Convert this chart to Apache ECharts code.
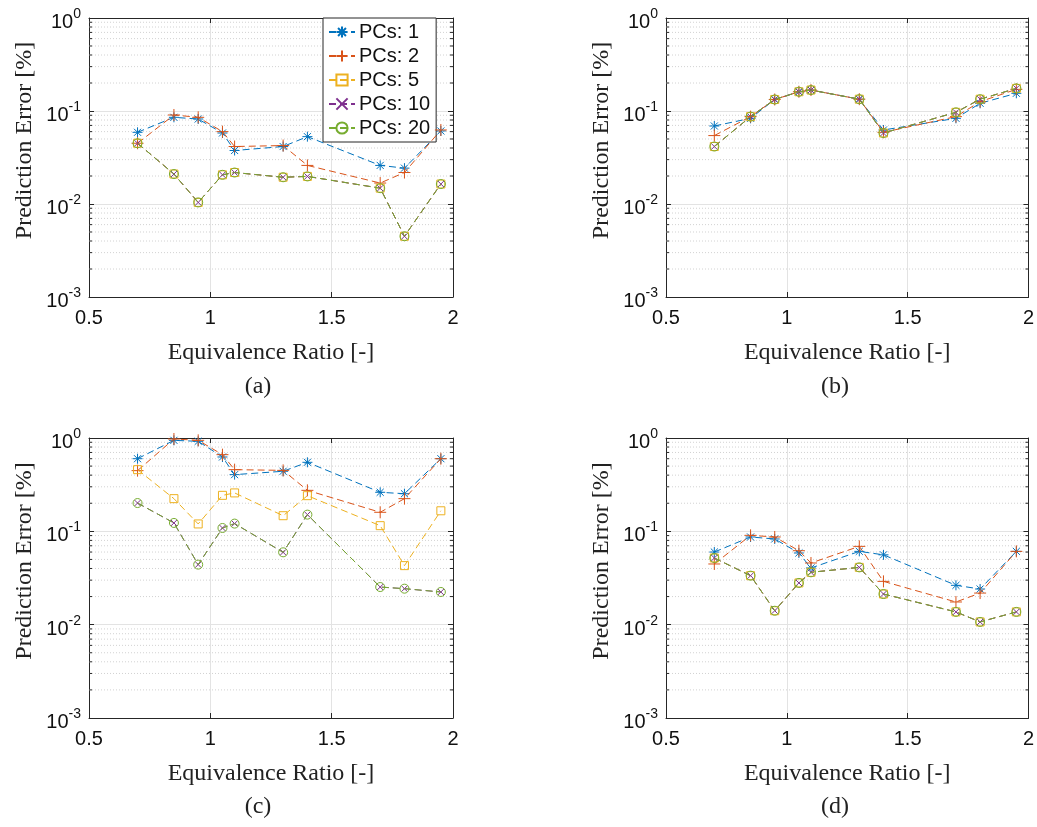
<!DOCTYPE html>
<html>
<head>
<meta charset="utf-8">
<script src="https://cdn.jsdelivr.net/npm/echarts@6/dist/echarts.min.js"></script>
<style>
html,body{margin:0;padding:0;background:#fff;}
#chart{width:1037px;height:827px;}
</style>
</head>
<body>
<div id="chart"></div>
<script>
// ---- data ----
const xVals = [0.7, 0.85, 0.95, 1.05, 1.1, 1.3, 1.4, 1.7, 1.8, 1.95];
const seriesNames = ['PCs: 1', 'PCs: 2', 'PCs: 5', 'PCs: 10', 'PCs: 20'];
const xTicks = [0.5, 1, 1.5, 2];
const panelLabels = ['(a)', '(b)', '(c)', '(d)'];

// (a)
const a_pc1  = [0.059, 0.0855, 0.082, 0.058, 0.0376, 0.0415, 0.053, 0.026, 0.0243, 0.061];
const a_pc2  = [0.045, 0.0906, 0.0855, 0.060, 0.0415, 0.0425, 0.026, 0.0168, 0.0218, 0.0625];
const a_pc5  = [0.045, 0.0210, 0.0104, 0.0206, 0.0218, 0.0194, 0.0198, 0.0148, 0.0045, 0.0164];
const a_pc10 = [0.045, 0.0210, 0.0104, 0.0206, 0.0218, 0.0194, 0.0198, 0.0148, 0.0045, 0.0164];
const a_pc20 = [0.045, 0.0210, 0.0104, 0.0206, 0.0218, 0.0194, 0.0198, 0.0148, 0.0045, 0.0164];
// (b)
const b_pc1  = [0.069, 0.0834, 0.133, 0.161, 0.168, 0.134, 0.0625, 0.0834, 0.121, 0.155];
const b_pc2  = [0.0544, 0.087, 0.133, 0.161, 0.168, 0.134, 0.059, 0.087, 0.126, 0.171];
const b_pc5  = [0.0415, 0.087, 0.133, 0.161, 0.168, 0.134, 0.058, 0.0968, 0.134, 0.175];
const b_pc10 = [0.0415, 0.087, 0.133, 0.161, 0.168, 0.134, 0.058, 0.0968, 0.134, 0.175];
const b_pc20 = [0.0415, 0.087, 0.133, 0.161, 0.168, 0.134, 0.058, 0.0968, 0.134, 0.175];
// (c)
const c_pc1  = [0.60, 0.944, 0.921, 0.626, 0.405, 0.44, 0.549, 0.262, 0.253, 0.60];
const c_pc2  = [0.447, 0.976, 0.944, 0.663, 0.458, 0.45, 0.275, 0.16, 0.224, 0.60];
const c_pc5  = [0.458, 0.224, 0.12, 0.243, 0.258, 0.147, 0.241, 0.115, 0.0429, 0.166];
const c_pc10 = [0.201, 0.123, 0.044, 0.1086, 0.121, 0.0596, 0.151, 0.0253, 0.0243, 0.0224];
const c_pc20 = [0.201, 0.123, 0.044, 0.1086, 0.121, 0.0596, 0.151, 0.0253, 0.0243, 0.0224];
// (d)
const d_pc1  = [0.060, 0.087, 0.0828, 0.0586, 0.0405, 0.061, 0.056, 0.0264, 0.0241, 0.061];
const d_pc2  = [0.0447, 0.0906, 0.087, 0.062, 0.0458, 0.069, 0.0291, 0.0175, 0.0218, 0.061];
const d_pc5  = [0.0518, 0.0335, 0.0141, 0.028, 0.0364, 0.0411, 0.0213, 0.0137, 0.0107, 0.0137];
const d_pc10 = [0.0518, 0.0335, 0.0141, 0.028, 0.0364, 0.0411, 0.0213, 0.0137, 0.0107, 0.0137];
const d_pc20 = [0.0518, 0.0335, 0.0141, 0.028, 0.0364, 0.0411, 0.0213, 0.0137, 0.0107, 0.0137];

const panels = [
  [a_pc1, a_pc2, a_pc5, a_pc10, a_pc20],
  [b_pc1, b_pc2, b_pc5, b_pc10, b_pc20],
  [c_pc1, c_pc2, c_pc5, c_pc10, c_pc20],
  [d_pc1, d_pc2, d_pc5, d_pc10, d_pc20]
];

// ---- styling ----
const colors = ['#0072BD', '#D95319', '#EDB120', '#7E2F8E', '#77AC30'];
const symbols = [
  'path://M0,-10L0,10M-10,0L10,0M-7.07,-7.07L7.07,7.07M-7.07,7.07L7.07,-7.07',
  'path://M0,-10L0,10M-10,0L10,0',
  'rect',
  'path://M-10,-10L10,10M-10,10L10,-10',
  'circle'
];
const symSizes = [10, 12, 8, 6, 9];
const grids = [
  {left: 89, top: 18, width: 364, height: 279},
  {left: 666, top: 18, width: 366, height: 279},
  {left: 89, top: 438, width: 364, height: 280},
  {left: 666, top: 438, width: 366, height: 280}
];
const labelPos = [[258, 387], [835, 387], [258, 807], [835, 807]];
const axisColor = '#262626';
const sansFont = 'Liberation Sans';
const serifFont = 'Liberation Serif';

// minor grid values (log decades)
const minorVals = [];
for (let e = -3; e < 0; e++) {
  for (let m = 2; m <= 9; m++) minorVals.push(m * Math.pow(10, e));
}

const xAxes = [], yAxes = [], series = [];
grids.forEach((g, gi) => {
  xAxes.push({
    type: 'value', gridIndex: gi, min: 0.5, max: 2, interval: 0.5, position: 'bottom',
    name: 'Equivalence Ratio [-]', nameLocation: 'middle', nameGap: 44,
    nameTextStyle: {fontFamily: serifFont, fontSize: 24, color: '#222'},
    axisLine: {show: true, onZero: false, lineStyle: {color: axisColor, width: 1}},
    axisTick: {show: true, inside: true, length: 5, lineStyle: {color: axisColor}},
    axisLabel: {fontFamily: sansFont, fontSize: 20, color: '#111', margin: 11,
      formatter: v => String(v)},
    splitLine: {show: true, lineStyle: {color: '#e3e3e3', width: 1}}
  });
  xAxes.push({
    type: 'value', gridIndex: gi, min: 0.5, max: 2, interval: 0.5, position: 'top',
    axisLine: {show: true, onZero: false, lineStyle: {color: axisColor, width: 1}},
    axisTick: {show: true, inside: true, length: 5, lineStyle: {color: axisColor}},
    axisLabel: {show: false}, splitLine: {show: false}
  });
  yAxes.push({
    type: 'log', gridIndex: gi, min: 0.001, max: 1, logBase: 10, position: 'left',
    name: 'Prediction Error [%]', nameLocation: 'middle', nameGap: 52,
    nameTextStyle: {fontFamily: serifFont, fontSize: 24, color: '#222', padding: [0, 0, 0, 34]},
    axisLine: {show: true, onZero: false, lineStyle: {color: axisColor, width: 1}},
    axisTick: {show: true, inside: true, length: 5, lineStyle: {color: axisColor}},
    axisLabel: {
      margin: 8,
      formatter: v => '{b|10}{s|' + Math.round(Math.log10(v)) + '}',
      rich: {
        b: {fontFamily: sansFont, fontSize: 20, color: '#111', padding: [9, 0, 0, 0]},
        s: {fontFamily: sansFont, fontSize: 14, color: '#111', padding: [0, 0, 8, 0]}
      }
    },
    splitLine: {show: true, lineStyle: {color: '#e3e3e3', width: 1}}
  });
  yAxes.push({
    type: 'log', gridIndex: gi, min: 0.001, max: 1, logBase: 10, position: 'right',
    axisLine: {show: true, onZero: false, lineStyle: {color: axisColor, width: 1}},
    axisTick: {show: true, inside: true, length: 5, lineStyle: {color: axisColor}},
    axisLabel: {show: false}, splitLine: {show: false}
  });

  // minor grid lines + minor ticks
  series.push({
    type: 'custom', name: 'minor', xAxisIndex: gi * 2, yAxisIndex: gi * 2, z: 1,
    silent: true, clip: false,
    data: minorVals.map(v => [0.5, v]),
    renderItem: (params, api) => {
      const v = api.value(1);
      const l = api.coord([0.5, v]);
      const r = api.coord([2, v]);
      const children = [
        {type: 'line', shape: {x1: l[0], y1: l[1], x2: r[0], y2: r[1]},
         style: {stroke: '#d2d2d2', lineWidth: 1, lineDash: [1, 2]}},
        {type: 'line', shape: {x1: l[0], y1: l[1], x2: l[0] + 3, y2: l[1]},
         style: {stroke: axisColor, lineWidth: 1}},
        {type: 'line', shape: {x1: r[0] - 3, y1: r[1], x2: r[0], y2: r[1]},
         style: {stroke: axisColor, lineWidth: 1}}
      ];
      return {type: 'group', children: children};
    }
  });

  panels[gi].forEach((vals, si) => {
    series.push({
      type: 'line', name: seriesNames[si],
      xAxisIndex: gi * 2, yAxisIndex: gi * 2, z: 3 + si,
      data: xVals.map((x, k) => [x, vals[k]]),
      symbol: symbols[si], symbolSize: symSizes[si], showSymbol: true,
      lineStyle: {color: colors[si], width: 1, type: [7, 4]},
      itemStyle: {color: 'rgba(0,0,0,0)', borderColor: colors[si], borderWidth: 1},
      emphasis: {disabled: true},
      animation: false
    });
  });
});

const graphics = panelLabels.map((t, i) => ({
  type: 'text', x: labelPos[i][0], y: labelPos[i][1],
  style: {text: t, fontFamily: serifFont, fontSize: 24, fill: '#222',
    textAlign: 'center', textVerticalAlign: 'middle'}
}));

const chart = echarts.init(document.getElementById('chart'), null, {renderer: 'canvas'});
chart.setOption({
  animation: false,
  backgroundColor: '#ffffff',
  grid: grids.map(g => Object.assign({containLabel: false}, g)),
  xAxis: xAxes,
  yAxis: yAxes,
  series: series,
  legend: {
    data: seriesNames,
    orient: 'vertical',
    left: 323, top: 18,
    padding: [4, 6, 4, 5],
    itemWidth: 26, itemHeight: 14, itemGap: 4,
    backgroundColor: '#ffffff',
    borderColor: axisColor, borderWidth: 1,
    textStyle: {fontFamily: sansFont, fontSize: 20, color: '#111', lineHeight: 20, padding: [0, 0, 0, -1]},
    selectedMode: false
  },
  graphic: graphics
});
</script>
</body>
</html>
